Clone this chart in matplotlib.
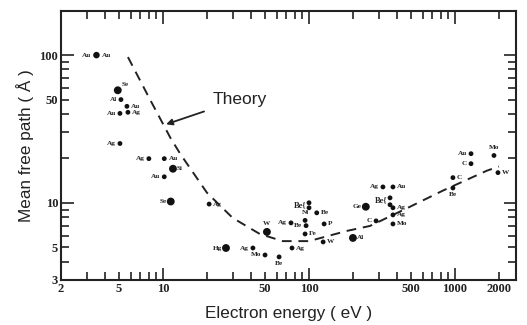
import matplotlib
matplotlib.use("Agg")
import matplotlib.pyplot as plt
from matplotlib.ticker import FixedLocator, FixedFormatter

# measured points: element, energy (eV), mean free path (A)
elements = ["Au", "Se", "Al", "Au", "Au", "Ag", "Ag", "Ag", "Au", "Si", "Au", "Se",
            "Ag", "Hg", "Ag", "Mo", "Be", "W", "Ag", "Ni", "Be", "Fe", "Ag",
            "Be", "", "Be", "P", "W", "Al", "Ge", "C", "Ag", "Au", "Be", "",
            "Ag", "Ag", "Mo", "Au", "C", "C", "Be", "Mo", "W"]
energy = [3.5, 4.9, 5.15, 5.66, 5.07, 5.75, 5.07, 8.0, 10.2, 11.7, 10.2, 11.3,
          20.7, 27.0, 41.3, 50.0, 62.4, 51.5, 75.3, 94.0, 95.5, 94.0, 76.5,
          100.0, 100.0, 113.0, 127.0, 125.0, 200.0, 245.0, 288.0, 321.0, 376.0, 359.0, 359.0,
          376.0, 376.0, 376.0, 1288.0, 1288.0, 968.0, 968.0, 1850.0, 1970.0]
mfp = [100.0, 57.8, 50.0, 45.0, 40.3, 41.0, 25.2, 19.9, 19.9, 17.0, 15.0, 10.2,
       9.8, 4.94, 4.94, 4.43, 4.3, 6.35, 7.31, 7.6, 7.0, 6.15, 4.94,
       10.0, 9.25, 8.55, 7.19, 5.43, 5.78, 9.4, 7.54, 12.8, 12.8, 10.8, 9.7,
       9.25, 8.28, 7.19, 21.5, 18.4, 14.8, 12.6, 20.9, 16.0]

# theory curve
theory_e = [5.75, 8.15, 11.2, 13.1, 20.0, 30.0, 46.0, 66.0, 100.0, 182.0, 262.0,
            492.0, 828.0, 1656.0, 2000.0]
theory_l = [97.0, 50.0, 27.7, 21.5, 11.7, 7.9, 6.15, 5.5, 5.5, 6.45, 6.97,
            9.4, 12.1, 16.5, 17.6]

xtick_labels = ["2", "5", "10", "50", "100", "500", "1000", "2000"]
ytick_labels = ["3", "5", "10", "50", "100"]

# label placement (style only): l/r/u/d/lr/brace
side = ["lr", "ur", "l", "r", "l", "r", "l", "l", "r", "r", "l", "l",
        "r", "l", "l", "l", "d", "u", "l", "u", "l", "r", "r",
        "brace", "", "r", "r", "r", "r", "l", "l", "l", "r", "brace", "",
        "r", "r", "r", "l", "l", "r", "d", "u", "r"]
big = [1, 9, 11, 13, 17, 28, 29]

fig = plt.figure(figsize=(5.27, 3.25), dpi=100)
ax = fig.add_axes([0.1157, 0.1385, 0.8634, 0.8277])
ax.set_xscale("log")
ax.set_yscale("log")
ax.set_xlim(2, 2618)
ax.set_ylim(3, 199)

ax.plot(theory_e, theory_l, color="#222222", lw=1.4, ls=(0, (5, 3.5)))

sizes = [32 if i in big else 12 for i in range(len(energy))]
sizes[0] = 22
ax.scatter(energy, mfp, s=sizes, color="#111111", zorder=3, linewidths=0)

lab_font = dict(family="Liberation Serif", weight="bold", size=5.2, color="#222222")
offs = {"l": (-3, 0, "right", "center"), "r": (3, 0, "left", "center"),
        "u": (0, 4, "center", "bottom"), "d": (0, -3, "center", "top"),
        "ur": (3, 2, "left", "bottom")}
for e, m, t, s in zip(energy, mfp, elements, side):
    if not t:
        continue
    if s == "lr":
        ax.annotate(t, (e, m), xytext=(-4, 0), textcoords="offset points",
                    ha="right", va="center", **lab_font)
        ax.annotate(t, (e, m), xytext=(4, 0), textcoords="offset points",
                    ha="left", va="center", **lab_font)
    elif s == "brace":
        ax.annotate(t + "{", (e, m), xytext=(-2, -2), textcoords="offset points",
                    ha="right", va="center", **dict(lab_font, size=6))
    else:
        dx, dy, ha, va = offs[s]
        ax.annotate(t, (e, m), xytext=(dx, dy), textcoords="offset points",
                    ha=ha, va=va, **lab_font)

ax.annotate("Theory", xy=(10.5, 34.0), xytext=(21.7, 50.0),
            fontsize=12.5, family="Liberation Sans", color="#222222",
            ha="left", va="center",
            arrowprops=dict(arrowstyle="-|>", color="#222222", lw=1.3,
                            mutation_scale=9, shrinkA=4, shrinkB=0))

# ticks
ax.xaxis.set_major_locator(FixedLocator([10, 100, 1000]))
ax.xaxis.set_minor_locator(FixedLocator([2, 3, 4, 5, 6, 7, 8, 9, 20, 30, 40, 50, 60, 70, 80, 90,
                                         200, 300, 400, 500, 600, 700, 800, 900, 2000]))
ax.xaxis.set_major_formatter(FixedFormatter(["10", "100", "1000"]))
ax.xaxis.set_minor_formatter(FixedFormatter(["2", "", "", "5", "", "", "", "", "", "", "", "50",
                                             "", "", "", "", "", "", "", "500", "", "", "", "", "2000"]))
ax.yaxis.set_major_locator(FixedLocator([10, 100]))
ax.yaxis.set_minor_locator(FixedLocator([3, 4, 5, 6, 7, 8, 9, 20, 30, 40, 50, 60, 70, 80, 90]))
ax.yaxis.set_major_formatter(FixedFormatter(["10", "100"]))
ax.yaxis.set_minor_formatter(FixedFormatter(["3", "", "5", "", "", "", "", "", "", "", "50",
                                             "", "", "", ""]))
ax.tick_params(which="both", direction="in", top=True, right=True, width=1.2,
               color="#222222", pad=2)
ax.tick_params(which="major", length=9)
ax.tick_params(which="minor", length=6)
for lab in ax.get_xticklabels(which="both") + ax.get_yticklabels(which="both"):
    lab.set_family("Liberation Serif")
    lab.set_weight("bold")
    lab.set_fontsize(9)
    lab.set_color("#222222")
for sp in ax.spines.values():
    sp.set_linewidth(1.5)
    sp.set_color("#222222")

ax.set_xlabel("Electron energy ( eV )", family="Liberation Sans", fontsize=12.3,
              color="#222222", labelpad=8)
ax.set_ylabel("Mean free path ( Å )", family="Liberation Sans", fontsize=12.3,
              color="#222222", labelpad=4)

fig.savefig("out.png", dpi=100)
